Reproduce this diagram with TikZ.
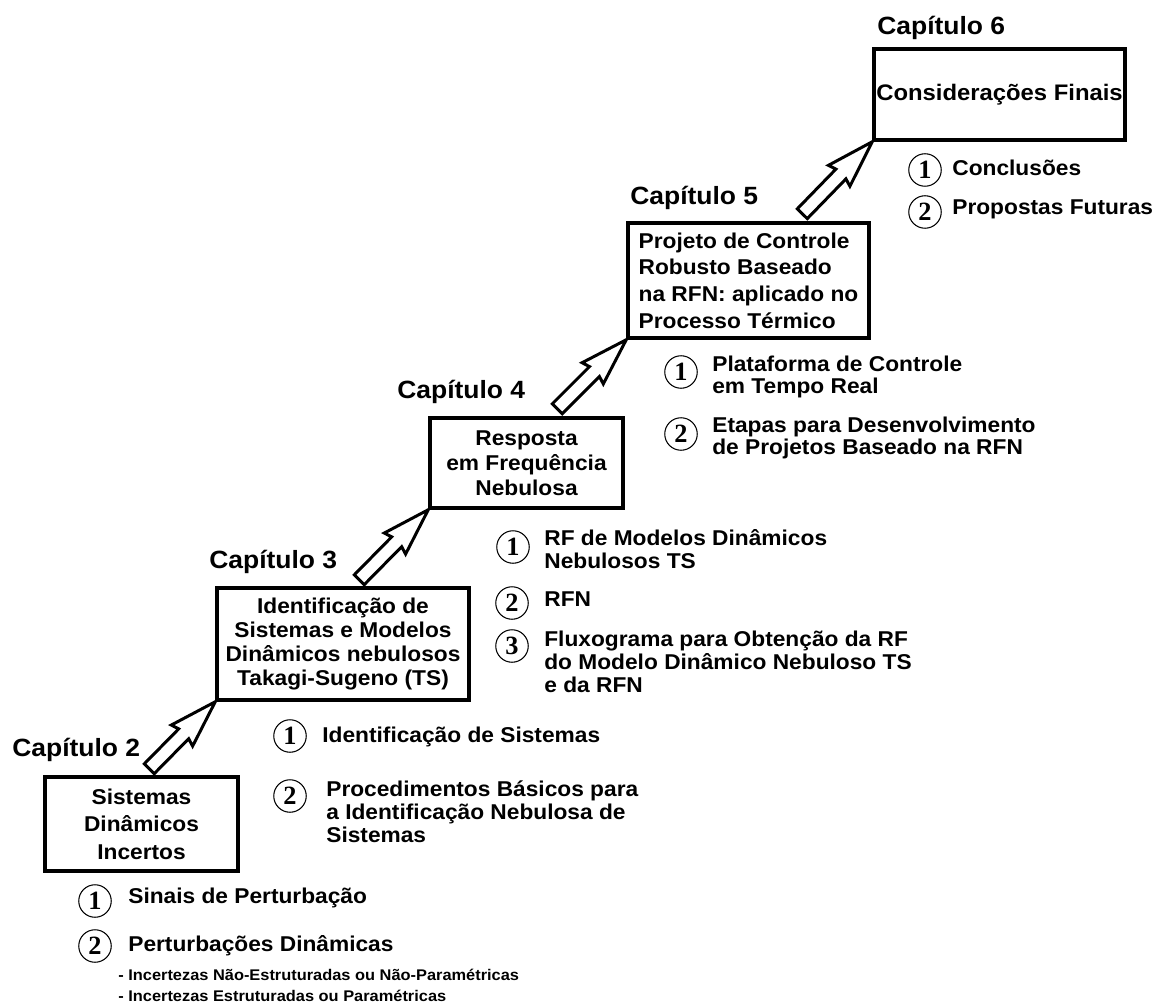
\documentclass[tikz,border=0pt]{standalone}
\usepackage{fontspec}
\setmainfont{Liberation Sans}[FakeStretch=1.06]
\newfontfamily\numfont{Liberation Serif}
\usetikzlibrary{calc}

% hollow arrow climbing from one step to the next: #1 tail, #2 tip
\newcommand{\steparrow}[2]{%
  \coordinate (ah) at ($(#2)!0.9cm!(#1)$);
  \coordinate (ab) at ($(#2)!0.95cm!(#1)$);
  \draw[stair] ($(#1)!0.14cm!90:(#2)$) -- ($(ah)!0.14cm!90:(#2)$) -- ($(ab)!0.3cm!90:(#2)$) -- (#2)
    -- ($(ab)!0.3cm!-90:(#2)$) -- ($(ah)!0.14cm!-90:(#2)$) -- ($(#1)!0.14cm!-90:(#2)$) -- cycle;}

\begin{document}
\begin{tikzpicture}[x=0.02cm, y=-0.02cm,
	chapbox/.style={draw, line width=2pt, align=center, inner sep=0pt, font=\fontsize{12.2}{#1}\selectfont\bfseries},
	chapbox/.default=14.5pt,
	chaptitle/.style={anchor=west, inner sep=0pt, font=\fontsize{14.2}{16}\selectfont\bfseries},
	num/.style={circle, draw, line width=0.6pt, inner sep=0pt, minimum size=0.65cm, font=\numfont\bfseries\fontsize{15}{15}\selectfont},
	item/.style={anchor=west, align=left, inner sep=0pt, font=\fontsize{12.2}{13}\selectfont\bfseries},
	subitem/.style={anchor=west, align=left, inner sep=0pt, font=\fontsize{8.8}{12}\selectfont\bfseries},
	stair/.style={line width=1.7pt, line join=miter}]

	\useasboundingbox (0,0) rectangle (1158,1006);

	% the steps, one box per chapter
	\node[chapbox=15.6pt, minimum width=3.86cm, minimum height=1.88cm] (b2) at (141.5,824) {Sistemas\\Dinâmicos\\Incertos};
	\node[chapbox=13.8pt, minimum width=5.04cm, minimum height=2.24cm] (b3) at (343,644) {Identificação de\\Sistemas e Modelos\\Dinâmicos nebulosos\\Takagi-Sugeno (TS)};
	\node[chapbox=14.2pt, minimum width=3.86cm, minimum height=1.8cm] (b4) at (526.5,463) {Resposta\\em Frequência\\Nebulosa};
	\node[chapbox=15.2pt, align=left, minimum width=4.82cm, minimum height=2.3cm] (b5) at (748.5,280.5) {Projeto de Controle\\Robusto Baseado\\na RFN: aplicado no\\Processo Térmico};
	\node[chapbox, minimum width=5.02cm, minimum height=1.82cm, font=\fontsize{12.8}{14}\selectfont\bfseries] (b6) at (999.5,94.5) {Considerações Finais};

	% chapter titles
	\node[chaptitle] (c2) at (12,750) {Capítulo 2};
	\node[chaptitle] (c3) at (209,562) {Capítulo 3};
	\node[chaptitle] (c4) at (397,392) {Capítulo 4};
	\node[chaptitle] (c5) at (630,198) {Capítulo 5};
	\node[chaptitle] (c6) at (877,28) {Capítulo 6};

	% arrows, tail just above a box, tip on the next box corner
	\coordinate (t23) at ($(b3.south west)+(-66,67)$);
	\coordinate (t34) at ($(b4.south west)+(-69,70)$);
	\coordinate (t45) at ($(b5.south west)+(-69,69)$);
	\coordinate (t56) at ($(b6.south west)+(-70,72)$);
	\steparrow{t23}{b3.south west}
	\steparrow{t34}{b4.south west}
	\steparrow{t45}{b5.south west}
	\steparrow{t56}{b6.south west}

	% chapter 2 contents
	\node[num] (n21) at (95,901) {1};
	\node[item] (i21) at (128,898) {Sinais de Perturbação};
	\node[num] (n22) at (95,946) {2};
	\node[item] (i22) at (128,946) {Perturbações Dinâmicas};
	\node[subitem] (s22) at (118,985) {- Incertezas Não-Estruturadas ou Não-Paramétricas\\- Incertezas Estruturadas ou Paramétricas};

	% chapter 3 contents
	\node[num] (n31) at (290,736) {1};
	\node[item] (i31) at (322,737) {Identificação de Sistemas};
	\node[num] (n32) at (290,796) {2};
	\node[item] (i32) at (326,812) {Procedimentos Básicos para\\a Identificação Nebulosa de\\Sistemas};

	% chapter 4 contents
	\node[num] (n41) at (513,547) {1};
	\node[item] (i41) at (544,549) {RF de Modelos Dinâmicos\\Nebulosos TS};
	\node[num] (n42) at (512,603) {2};
	\node[item] (i42) at (544,599) {RFN};
	\node[num] (n43) at (512,646) {3};
	\node[item] (i43) at (544,662) {Fluxograma para Obtenção da RF\\do Modelo Dinâmico Nebuloso TS\\e da RFN};

	% chapter 5 contents
	\node[num] (n51) at (681,372) {1};
	\node[item] (i51) at (712,377) {Plataforma de Controle\\em Tempo Real};
	\node[num] (n52) at (681,434) {2};
	\node[item] (i52) at (712,438) {Etapas para Desenvolvimento\\de Projetos Baseado na RFN};

	% chapter 6 contents
	\node[num] (n61) at (925,170) {1};
	\node[item] (i61) at (952,168) {Conclusões};
	\node[num] (n62) at (925,212) {2};
	\node[item] (i62) at (952,209) {Propostas Futuras};

\end{tikzpicture}
\end{document}
